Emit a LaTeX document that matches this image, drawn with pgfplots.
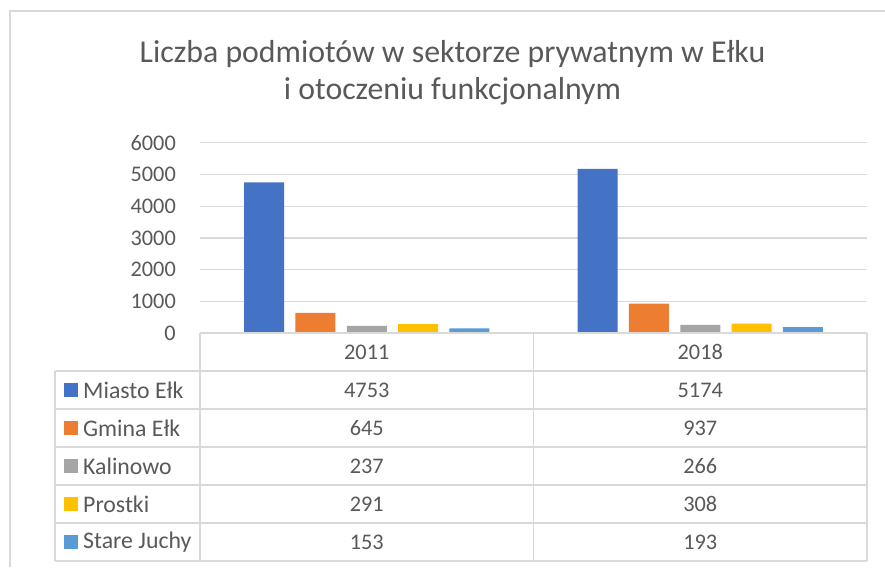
\documentclass[border=0pt]{standalone}
\usepackage{pgfplots}
\pgfplotsset{compat=1.18}
\usepackage{pgfplotstable}
\usepackage{fontspec}
\setmainfont{Carlito}
\definecolor{cBlue}{HTML}{4472C4}
\definecolor{cOrange}{HTML}{ED7D31}
\definecolor{cGray}{HTML}{A5A5A5}
\definecolor{cYellow}{HTML}{FFC000}
\definecolor{cLBlue}{HTML}{5B9BD5}
\definecolor{txt}{HTML}{595959}
\definecolor{gridc}{HTML}{D9D9D9}

\pgfplotstableread{
x Miasto Gmina Kalinowo Prostki Stare
0 4753 645 237 291 153
1 5174 937 266 308 193
}\datatable

\begin{document}
\begin{tikzpicture}[x=1pt,y=1pt]
\useasboundingbox (0,0) rectangle (885,567);
\fill[white] (0,0) rectangle (885,567);
\draw[gridc, line width=1.3pt] (10,0) -- (10,556) -- (885,556);
\node[anchor=base, text=txt, font=\fontsize{31.8}{37}\selectfont] at (452.5,504) {Liczba podmiotów w sektorze prywatnym w Ełku};
\node[anchor=base, text=txt, font=\fontsize{31.8}{37}\selectfont] at (452.5,467) {i otoczeniu funkcjonalnym};
\begin{axis}[
  at={(200pt,233.7pt)}, anchor=south west,
  width=667pt, height=190.6pt, scale only axis,
  ymin=0, ymax=6000, xmin=-0.5, xmax=1.5,
  ytick={0,1000,...,6000},
  ymajorgrids, grid style={gridc, line width=1.3pt},
  axis line style={draw=none},
  xtick=\empty,
  major tick length=0pt,
  ybar=11.3pt, bar width=40pt,
  yticklabel style={font=\fontsize{22.3}{26}\selectfont, text=txt, inner sep=0pt, xshift=-24pt},
  /pgf/number format/assume math mode=true,
  /pgf/number format/1000 sep={},
  scaled y ticks=false,
  clip=false,
]
\addplot[fill=cBlue, draw=none] table[x=x,y=Miasto]\datatable;
\addplot[fill=cOrange, draw=none] table[x=x,y=Gmina]\datatable;
\addplot[fill=cGray, draw=none] table[x=x,y=Kalinowo]\datatable;
\addplot[fill=cYellow, draw=none] table[x=x,y=Prostki]\datatable;
\addplot[fill=cLBlue, draw=none] table[x=x,y=Stare]\datatable;
\end{axis}
% data table
\begin{scope}[gridc, line width=1.3pt]
\draw (200,234) -- (867,234);
\foreach \yy in {196,158,120,82,44,6} \draw (55,\yy) -- (867,\yy);
\draw (200,234) -- (200,6);
\draw (533.5,234) -- (533.5,6);
\draw (867,234) -- (867,6);
\draw (55,196) -- (55,6);
\end{scope}
\begin{scope}[every node/.style={text=txt, font=\fontsize{22.3}{26}\selectfont, inner sep=0pt}]
\node at (366.75,215) {2011};
\node at (700.25,215) {2018};
\foreach \yy/\nm/\col/\a/\b in {177/Miasto Ełk/cBlue/4753/5174, 139/Gmina Ełk/cOrange/645/937, 101/Kalinowo/cGray/237/266, 63/Prostki/cYellow/291/308, 25/Stare Juchy/cLBlue/153/193} {
  \fill[\col] (64,\yy-7) rectangle (78,\yy+7);
  \node[anchor=west, font=\fontsize{23.8}{28}\selectfont] at (83,\yy) {\nm};
  \node at (366.75,\yy) {\a};
  \node at (700.25,\yy) {\b};
}
\end{scope}
\end{tikzpicture}
\end{document}
